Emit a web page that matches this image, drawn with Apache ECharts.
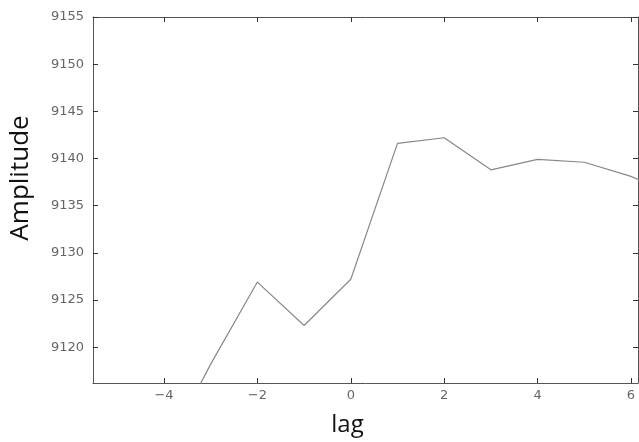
<!DOCTYPE html>
<html>
<head>
<meta charset="utf-8">
<script src="https://cdn.jsdelivr.net/npm/echarts@6/dist/echarts.min.js"></script>
<style>
html, body { margin: 0; padding: 0; background: #fff; }
#chart { width: 639px; height: 442px; }
</style>
</head>
<body>
<div id="chart"></div>
<script>
// lag values and amplitude
var lags = [-5, -4, -3, -2, -1, 0, 1, 2, 3, 4, 5, 6, 7];
var amplitude = [9100, 9108.7, 9118.2, 9126.9, 9122.3, 9127.2, 9141.6, 9142.2, 9138.8, 9139.9, 9139.6, 9138.1, 9136];
var xTicks = [-4, -2, 0, 2, 4, 6];
var yTicks = [9120, 9125, 9130, 9135, 9140, 9145, 9150, 9155];

var chart = echarts.init(document.getElementById('chart'));

var axisGray = '#555';
var lblStyle = { color: '#666', fontSize: 13, fontFamily: 'DejaVu Sans' };

function fmt(v) {
    return String(v).replace('-', '\u2212');
}

function xAx(pos, labels) {
    return {
        type: 'value', position: pos, min: -5.52, max: 6.15,
        axisLine: { show: true, onZero: false, lineStyle: { color: axisGray, width: 1 } },
        axisTick: { show: true, inside: true, length: 5, customValues: xTicks, lineStyle: { color: '#333' } },
        axisLabel: { show: labels, customValues: xTicks, margin: 6, formatter: fmt, ...lblStyle },
        splitLine: { show: false },
        name: labels ? 'lag' : '',
        nameLocation: 'middle', nameGap: 30,
        nameTextStyle: { fontSize: 24, fontFamily: 'Open Sans', color: '#111', padding: [0, 36, 0, 0] }
    };
}
function yAx(pos, labels) {
    return {
        type: 'value', position: pos, min: 9116.2, max: 9155,
        axisLine: { show: true, onZero: false, lineStyle: { color: axisGray, width: 1 } },
        axisTick: { show: true, inside: true, length: 5, customValues: yTicks, lineStyle: { color: '#333' } },
        axisLabel: { show: labels, customValues: yTicks, margin: 9, formatter: fmt, ...lblStyle },
        splitLine: { show: false },
        name: labels ? 'Amplitude' : '',
        nameLocation: 'middle', nameGap: 59, nameRotate: 90,
        nameTextStyle: { fontSize: 26, fontFamily: 'Open Sans', color: '#111', padding: [0, 0, 0, 44] }
    };
}

chart.setOption({
    backgroundColor: '#fff',
    animation: false,
    grid: { left: 92, right: 1, top: 17, bottom: 58 },
    xAxis: [xAx('bottom', true), xAx('top', false)],
    yAxis: [yAx('left', true), yAx('right', false)],
    series: [{
        type: 'line',
        data: lags.map(function (l, i) { return [l, amplitude[i]]; }),
        showSymbol: false,
        clip: true,
        lineStyle: { color: '#888', width: 1.2 }
    }]
});
</script>
</body>
</html>
